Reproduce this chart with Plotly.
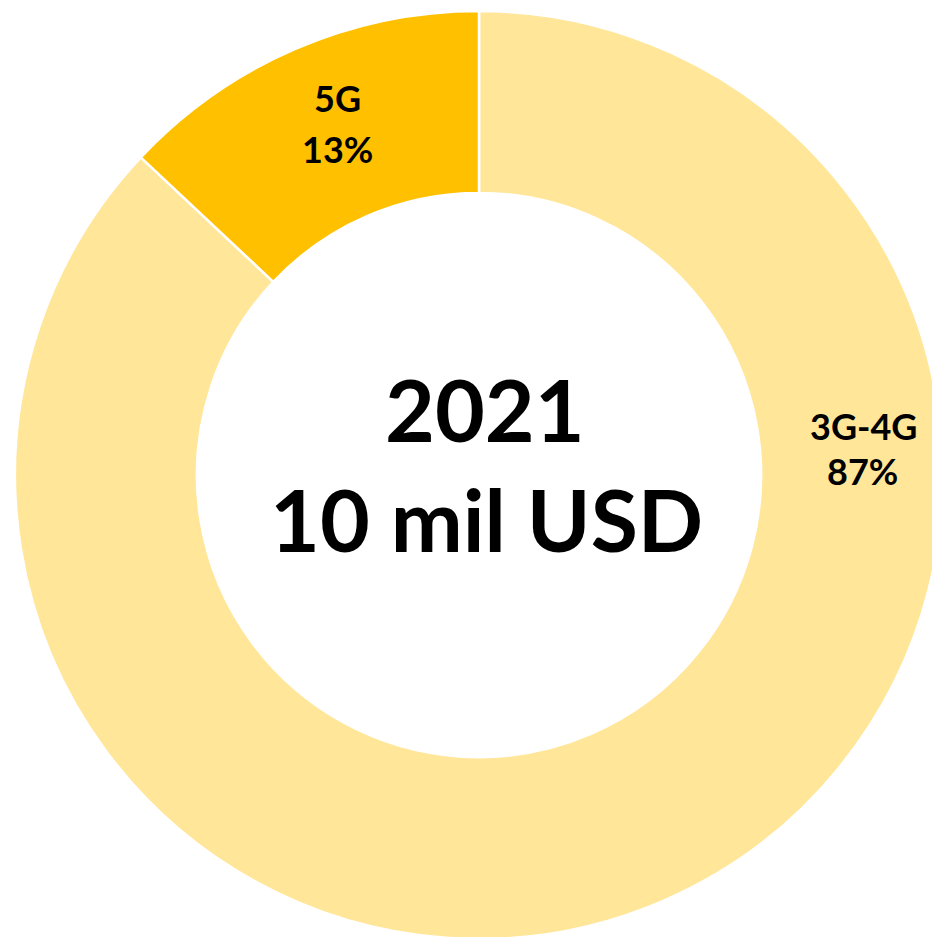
import plotly.graph_objects as go

labels = ["3G-4G", "5G"]
values = [87, 13]
colors = ["#FFE699", "#FFC000"]
center_lines = ["2021", "10 mil USD"]

# body margin is removed by post_script below, so screen px == figure px
OFF = 0
W, H = 960, 960
FONT = "Lato"

CX, CY, R = 479, 475, 464  # screen centre / outer radius


def fx(x):
    return (x - OFF) / W


def fy(y):
    return 1 - (y - OFF) / H


fig = go.Figure(go.Pie(
    labels=labels,
    values=values,
    sort=False,
    direction="clockwise",
    rotation=0,
    hole=0.608,
    marker=dict(colors=colors, line=dict(color="white", width=2.5)),
    textinfo="none",
    hoverinfo="label+percent",
    showlegend=False,
    domain=dict(x=[fx(CX - R), fx(CX + R)], y=[fy(CY + R), fy(CY - R)]),
))

anns = []
for (txt, x, y, size) in [(center_lines[0], 485, 408, 86), (center_lines[1], 486, 518, 86)]:
    anns.append(dict(text=f"<b>{txt}</b>", x=fx(x), y=fy(y), xref="paper", yref="paper",
                     xanchor="center", yanchor="middle", showarrow=False,
                     font=dict(family=FONT, size=size, color="black")))

pct = [f"{round(v / sum(values) * 100)}%" for v in values]
label_pos = {"5G": [(337, 98), (337, 149)], "3G-4G": [(863, 426), (862, 471)]}
for lab, p in zip(labels, pct):
    for txt, (x, y) in zip([lab, p], label_pos[lab]):
        anns.append(dict(text=f"<b>{txt}</b>", x=fx(x), y=fy(y), xref="paper", yref="paper",
                         xanchor="center", yanchor="middle", showarrow=False,
                         font=dict(family=FONT, size=36, color="black")))

fig.update_layout(
    width=W, height=H,
    margin=dict(l=0, r=0, t=0, b=0),
    paper_bgcolor="white", plot_bgcolor="white",
    annotations=anns,
)
fig.write_html(
    "out.html",
    config={"displayModeBar": False},
    post_script=(
        "document.body.style.margin='0';"
        "document.body.style.overflow='hidden';"
        "document.documentElement.style.overflow='hidden';"
    ),
)
